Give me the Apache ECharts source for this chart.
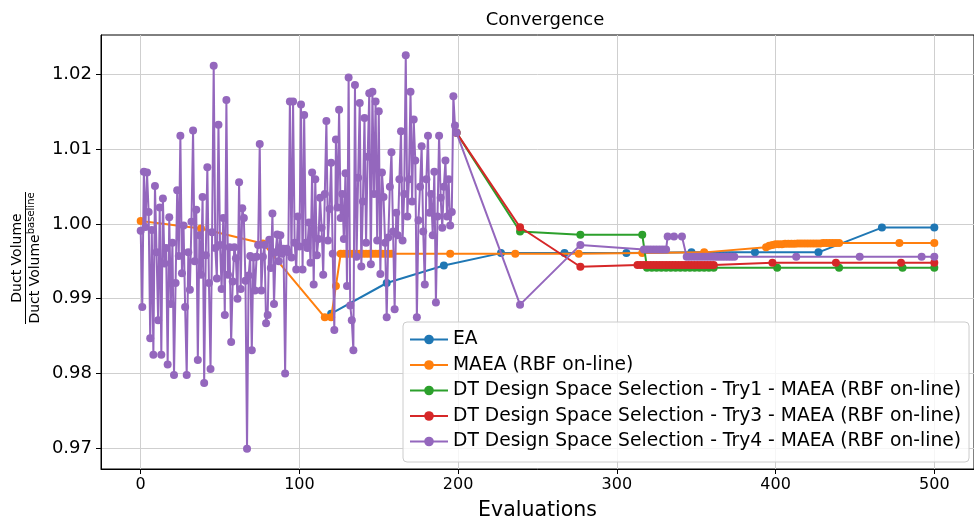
<!DOCTYPE html>
<html>
<head>
<meta charset="utf-8">
<script src="https://cdn.jsdelivr.net/npm/echarts@6/dist/echarts.min.js"></script>
<style>
html, body { margin: 0; padding: 0; background: #ffffff; }
#chart { width: 974px; height: 526px; }
</style>
</head>
<body>
<div id="chart"></div>
<script>
// Series labels, in legend order
const seriesNames = [
  'EA',
  'MAEA (RBF on-line)',
  'DT Design Space Selection - Try1 - MAEA (RBF on-line)',
  'DT Design Space Selection - Try3 - MAEA (RBF on-line)',
  'DT Design Space Selection - Try4 - MAEA (RBF on-line)'
];
const seriesColors = ['#1f77b4', '#ff7f0e', '#2ca02c', '#d62728', '#9467bd'];

// Tick positions
const xTicks = [0, 100, 200, 300, 400, 500];
const yTicks = [0.97, 0.98, 0.99, 1.00, 1.01, 1.02];

// EA
const eaX = [120, 155, 191, 227, 267, 306, 347, 387, 427, 467, 500];
const eaY = [0.9880, 0.9921, 0.99445, 0.9961, 0.9961, 0.9961, 0.9962, 0.9962, 0.9962, 0.99952, 0.99952];

// MAEA (RBF on-line)
const maeaX = [0, 38, 77, 116, 120, 123, 126, 128, 130, 132, 134, 136, 138, 140, 142, 144, 146, 148, 150, 152, 154, 156, 158,
  195, 236, 276, 316, 355,
  394, 396, 398, 400, 402, 404, 406, 408, 410, 412, 414, 416, 418, 420, 422, 424, 426, 428, 430, 432, 434, 436, 438, 440,
  478, 500];
const maeaY = [1.0004, 0.9994, 0.9974, 0.9875, 0.9875, 0.9917, 0.9960, 0.9960, 0.9960, 0.9960, 0.9960, 0.9960, 0.9960, 0.9960, 0.9960, 0.9960, 0.9960, 0.9960, 0.9960, 0.9960, 0.9960, 0.9960, 0.9960,
  0.9960, 0.9960, 0.9960, 0.9961, 0.9962,
  0.9969, 0.9971, 0.9972, 0.9973, 0.9973, 0.9973, 0.99735, 0.99735, 0.99735, 0.99735, 0.9974, 0.9974, 0.9974, 0.9974, 0.9974, 0.9974, 0.9974, 0.9974, 0.99745, 0.99745, 0.99745, 0.99745, 0.99745, 0.99745,
  0.99745, 0.99745];

// DT Design Space Selection - Try1
const try1X = [199, 239, 277, 316, 319, 322, 325, 328, 331, 334, 337, 340, 343, 346, 349, 352, 355, 358, 361, 401, 440, 480, 500];
const try1Y = [1.0122, 0.9990, 0.99855, 0.99855, 0.99415, 0.99415, 0.99415, 0.99415, 0.99415, 0.99415, 0.99415, 0.99415, 0.99415, 0.99415, 0.99415, 0.99415, 0.99415, 0.99415, 0.99415, 0.99415, 0.99415, 0.99415, 0.99415];

// DT Design Space Selection - Try3
const try3X = [199, 239, 277, 313, 315, 317, 319, 321, 323, 325, 327, 329, 331, 333, 335, 337, 339, 341, 343, 345, 347, 349, 351, 353, 355, 357, 359, 361, 398, 438, 479, 500];
const try3Y = [1.0122, 0.99956, 0.99428, 0.9945, 0.9945, 0.9945, 0.9945, 0.9945, 0.9945, 0.9945, 0.9945, 0.9945, 0.9945, 0.9945, 0.9945, 0.9945, 0.9945, 0.9945, 0.9945, 0.9945, 0.9945, 0.9945, 0.9945, 0.9945, 0.9945, 0.9945, 0.9945, 0.9945, 0.9948, 0.9948, 0.9948, 0.9948];

// DT Design Space Selection - Try4: one value per evaluation 0..199
const try4Early = [
  0.9991, 0.9889, 1.0070, 0.9996, 1.0069, 1.0016, 0.9847, 0.9992, 0.9825, 1.0051,
  0.9962, 0.9871, 1.0022, 0.9825, 1.0034, 0.9947, 0.9968, 0.9812, 1.0009, 0.9893,
  0.9975, 0.9798, 0.9921, 1.0045, 0.9957, 1.0118, 0.9934, 0.9998, 0.9889, 0.9798,
  0.9962, 0.9912, 1.0003, 1.0125, 0.9950, 1.0019, 0.9818, 0.9985, 0.9932, 1.0036,
  0.9787, 0.9958, 1.0076, 0.9921, 0.9806, 0.9989, 1.0212, 0.9968, 0.9927, 1.0133,
  0.9972, 0.9913, 1.0008, 0.9878, 1.0166, 0.9932, 0.9969, 0.9842, 0.9923, 0.9969,
  0.9954, 0.9900, 1.0056, 0.9913, 1.0021, 1.0008, 0.9924, 0.9699, 0.9931, 0.9957,
  0.9831, 0.9955, 0.9911, 0.9956, 0.9972, 1.0107, 0.9911, 0.9956, 0.9972, 0.9867,
  0.9878, 0.9979, 0.9941, 1.0014, 0.9893, 0.9962, 0.9986, 0.9950, 0.9985, 0.9960,
  0.9967, 0.9800, 0.9967, 0.9962, 1.0164, 0.9955, 1.0164, 0.9975, 0.9939, 1.0010,
  0.9970, 1.0160, 0.9939, 1.0146, 0.9975, 0.9968, 1.0002, 0.9948, 1.0069, 0.9919,
  1.0060, 0.9958, 0.9980, 1.0035, 0.9995, 0.9932, 1.0040, 1.0138, 0.9978, 1.0020,
  1.0082, 0.9960, 0.9858, 1.0113, 1.0022, 1.0153, 1.0008, 1.0040, 0.9980, 1.0068,
  0.9917, 1.0196, 0.9891, 0.9871, 0.9831, 1.0186, 0.9956, 1.0062, 1.0162, 0.9943,
  1.0030, 1.0142, 0.9975, 1.0090, 1.0175, 0.9946, 1.0177, 1.0040, 1.0164, 0.9978,
  1.0151, 0.9933, 1.0069, 1.0036, 0.9975, 0.9875, 0.9982, 1.0050, 1.0096, 0.9990,
  0.9886, 1.0015, 0.9985, 1.0060, 1.0124, 0.9978, 1.0040, 1.0226, 1.0010, 1.0060,
  1.0177, 1.0030, 1.0140, 1.0085, 0.9875, 1.0005, 1.0050, 1.0104, 0.9990, 0.9919,
  1.0060, 1.0118, 1.0015, 1.0040, 0.9985, 1.0070, 0.9895, 1.0010, 1.0118, 1.0035,
  0.9995, 1.0050, 1.0085, 1.0010, 1.0060, 0.9998, 1.0016, 1.0171, 1.0132, 1.0122
];
const try4LateX = [239, 277, 317, 319, 321, 323, 325, 327, 329, 331, 332, 336, 341,
  344, 346, 348, 350, 352, 354, 356, 358, 360, 362, 364, 366, 368, 370, 372, 374, 413, 453, 492, 500];
const try4LateY = [0.9892, 0.9972, 0.99657, 0.99657, 0.99657, 0.99657, 0.99657, 0.99657, 0.99657, 0.99657, 0.99833, 0.99833, 0.99833,
  0.9956, 0.9956, 0.9956, 0.9956, 0.9956, 0.9956, 0.9956, 0.9956, 0.9956, 0.9956, 0.9956, 0.9956, 0.9956, 0.9956, 0.9956, 0.9956, 0.9956, 0.9956, 0.9956, 0.9956];

// ---- build point lists for the library ----
function zip(xs, ys) { return xs.map((x, i) => [x, ys[i]]); }
const try4Data = try4Early.map((v, i) => [i, v]).concat(zip(try4LateX, try4LateY));
const seriesData = [zip(eaX, eaY), zip(maeaX, maeaY), zip(try1X, try1Y), zip(try3X, try3Y), try4Data];

const FONT = 'DejaVu Sans';

const chart = echarts.init(document.getElementById('chart'), null, { renderer: 'canvas' });

const option = {
  animation: false,
  backgroundColor: '#ffffff',
  title: {
    text: 'Convergence',
    left: 540,
    textAlign: 'center',
    top: 6,
    textStyle: { fontFamily: FONT, fontSize: 18, fontWeight: 'normal', color: '#000' }
  },
  grid: {
    left: 101, top: 35, bottom: 53, right: -9,
    show: true, borderColor: '#000', borderWidth: 1, backgroundColor: 'transparent'
  },
  legend: {
    orient: 'vertical',
    left: 403, top: 322,
    data: seriesNames,
    itemWidth: 38, itemHeight: 12, itemGap: 6.5,
    padding: [8, 8, 11, 6],
    backgroundColor: 'rgba(255,255,255,0.8)',
    borderColor: '#cccccc', borderWidth: 1, borderRadius: 4,
    textStyle: { fontFamily: FONT, fontSize: 18.7, color: '#000', lineHeight: 18 },
    selectedMode: false
  },
  xAxis: {
    type: 'value', min: -25, max: 525,
    name: 'Evaluations', nameLocation: 'middle', nameGap: 31,
    nameTextStyle: { fontFamily: FONT, fontSize: 20.5, color: '#000' },
    axisLine: { show: true, onZero: false, lineStyle: { color: '#000', width: 1 } },
    axisTick: { show: true, length: 5, customValues: xTicks, lineStyle: { color: '#000' } },
    axisLabel: { customValues: xTicks, margin: 8, fontFamily: FONT, fontSize: 16, color: '#000' },
    splitLine: { show: true, lineStyle: { color: '#cfcfcf', width: 1 } }
  },
  yAxis: {
    type: 'value', min: 0.9672, max: 1.0253,
    axisLine: { show: true, onZero: false, lineStyle: { color: '#000', width: 1 } },
    axisTick: { show: true, length: 5, customValues: yTicks, lineStyle: { color: '#000' } },
    axisLabel: { customValues: yTicks, margin: 9, fontFamily: FONT, fontSize: 18, color: '#000',
      formatter: v => v.toFixed(2) },
    splitLine: { show: true, lineStyle: { color: '#cfcfcf', width: 1 } }
  },
  graphic: [{
    type: 'group',
    x: 25.5, y: 258,
    rotation: Math.PI / 2,
    children: [
      { type: 'text', x: 0, y: -8,
        style: { text: 'Duct Volume', align: 'center', verticalAlign: 'middle', font: '14px "DejaVu Sans"', fill: '#000' } },
      { type: 'line', shape: { x1: -66, y1: 0, x2: 66, y2: 0 }, style: { stroke: '#000', lineWidth: 1 } },
      { type: 'text', x: 0, y: 10,
        style: {
          text: 'Duct Volume{sup|baseline}', align: 'center', verticalAlign: 'middle',
          font: '14px "DejaVu Sans"', fill: '#000',
          rich: { sup: { fontFamily: FONT, fontSize: 10, verticalAlign: 'top', padding: [0, 0, 8, 0], fill: '#000' } }
        } }
    ]
  }],
  series: seriesNames.map((name, i) => ({
    name: name,
    type: 'line',
    data: seriesData[i],
    symbol: 'circle',
    symbolSize: 8,
    showSymbol: true,
    showAllSymbol: true,
    clip: true,
    color: seriesColors[i],
    lineStyle: { color: seriesColors[i], width: 2 },
    itemStyle: { color: seriesColors[i] },
    emphasis: { disabled: true },
    z: 2 + i
  }))
};

chart.setOption(option);
</script>
</body>
</html>
